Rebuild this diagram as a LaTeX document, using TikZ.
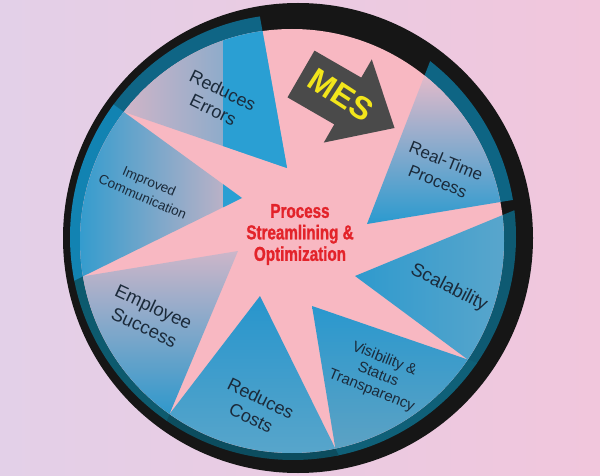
\documentclass[tikz,border=0pt]{standalone}
\usepackage{fontspec}
\setmainfont{Liberation Sans}
\newfontfamily\condfont[FakeStretch=0.76, FakeBold=1.2]{Liberation Sans}
\usetikzlibrary{calc}

\definecolor{bgleft}{HTML}{E3D0E8}
\definecolor{bgright}{HTML}{F1C6DC}
\definecolor{ringblack}{HTML}{161616}
\definecolor{starpink}{HTML}{F8B8C2}
\definecolor{brightblue}{HTML}{2A9FD3}
\definecolor{labelnavy}{HTML}{1B2A3A}
\definecolor{titlered}{HTML}{E3232A}
\definecolor{mesgrey}{HTML}{4A4A4A}
\definecolor{mesyellow}{HTML}{F2E51B}
% dark ends of the wedges on the ring
\definecolor{ext-re}{HTML}{0F6585}
\definecolor{ext-rt}{HTML}{0E6584}
\definecolor{ext-sc}{HTML}{0E5A72}
\definecolor{ext-vis}{HTML}{0F6078}
\definecolor{ext-rc}{HTML}{0C4D5F}
\definecolor{ext-es}{HTML}{0D5A6E}
\definecolor{ext-ic}{HTML}{1283B2}

\tikzset{
  wshade-re/.style={left color={rgb,255:red,208;green,181;blue,200}, right color={rgb,255:red,100;green,165;blue,203}},
  wshade-rt/.style={top color={rgb,255:red,226;green,186;blue,202}, bottom color={rgb,255:red,42;green,154;blue,207}},
  wshade-sc/.style={left color={rgb,255:red,47;green,154;blue,205}, right color={rgb,255:red,90;green,166;blue,204}},
  wshade-vis/.style={top color={rgb,255:red,42;green,152;blue,206}, bottom color={rgb,255:red,92;green,162;blue,196}},
  wshade-rc/.style={top color={rgb,255:red,39;green,149;blue,204}, bottom color={rgb,255:red,90;green,166;blue,203}},
  wshade-es/.style={top color={rgb,255:red,205;green,182;blue,201}, bottom color={rgb,255:red,47;green,152;blue,203}},
  wshade-ic/.style={left color={rgb,255:red,46;green,155;blue,206}, right color={rgb,255:red,203;green,180;blue,198}},
}

% name / apex x / apex y / rim start angle / rim end angle
\def\wedgelist{re/287/168/217.5/262, rt/367/224/308.7/349.4, sc/355/276/-7/34,
  vis/312/306/34/78.2, rc/260/296/78.2/125.3, es/238/251/125.3/170.4, ic/242/198/170.4/217.5}

\begin{document}
\begin{tikzpicture}[x=1pt, y=-1pt,
  lbl/.style={text=labelnavy, align=center, inner sep=0pt},
]
\useasboundingbox (0,0) rectangle (600,476);
\shade[left color=bgleft, right color=bgright] (0,0) rectangle (600,476);

% outer ring
\fill[ringblack] (298,238) circle[radius=235];

% dark parts of the wedges on the ring
\begin{scope}
  \clip (293,237) circle[radius=223];
  \foreach \n/\ax/\ay/\aa/\ab in \wedgelist {
    \coordinate (apex) at (\ax,\ay);
    \coordinate (p) at ($(292,241)+(\aa:212)$);
    \coordinate (q) at ($(292,241)+(\ab:212)$);
    \fill[ext-\n] (apex) -- ($(apex)!3!(p)$) -- ($(apex)!3!(q)$) -- cycle;
  }
\end{scope}

% pink star
\fill[starpink] (292,241) circle[radius=212];

% blue wedges
\foreach \n/\ax/\ay/\aa/\ab in \wedgelist {
  \shade[wshade-\n] (\ax,\ay) -- ($(292,241)+(\aa:212)$)
    arc[start angle=\aa, end angle=\ab, radius=212] -- cycle;
}
\foreach \n/\ax/\ay/\aa/\ab in {re/287/168/217.5/262, ic/242/198/170.4/217.5} {
  \begin{scope}
    \clip (\ax,\ay) -- ($(292,241)+(\aa:212)$)
      arc[start angle=\aa, end angle=\ab, radius=212] -- cycle;
    \fill[brightblue] (223,0) rectangle (300,476);
  \end{scope}
}

% labels
\node[lbl, rotate=-26, font=\fontsize{18}{22}\selectfont] (re) at (218,100) {Reduces\\Errors};
\node[lbl, rotate=-22, font=\fontsize{17}{22}\selectfont] (rt) at (442,171) {Real-Time\\Process};
\node[lbl, rotate=-27, font=\fontsize{18.5}{22}\selectfont] (sc) at (449,288) {Scalability};
\node[lbl, rotate=-22, font=\fontsize{15}{17}\selectfont] (vis) at (378,375) {Visibility \&\\Status\\Transparency};
\node[lbl, rotate=-26, font=\fontsize{18}{22}\selectfont] (rc) at (256,408) {Reduces\\Costs};
\node[lbl, rotate=-25, font=\fontsize{18.5}{22.5}\selectfont] (es) at (149,317) {Employee\\Success};
\node[lbl, rotate=-23, font=\fontsize{13.5}{17}\selectfont] (ic) at (146,189) {Improved\\Communication};

% centre
\node[text=titlered, align=center, font=\condfont\bfseries\fontsize{20}{21.5}\selectfont] (title) at (300,234.5)
  {Process\\Streamlining \&\\Optimization};

% MES arrow
\begin{scope}[shift={(301,74)}, rotate=-30]
  \fill[mesgrey] (0,-27) -- (54,-27) -- (54,-48) -- (108,0) -- (54,48) -- (54,27) -- (0,27) -- cycle;
\end{scope}
\node[text=mesyellow, rotate=-33, font=\bfseries\fontsize{32}{32}\selectfont] (mes) at (341,95) {MES};
\end{tikzpicture}
\end{document}
